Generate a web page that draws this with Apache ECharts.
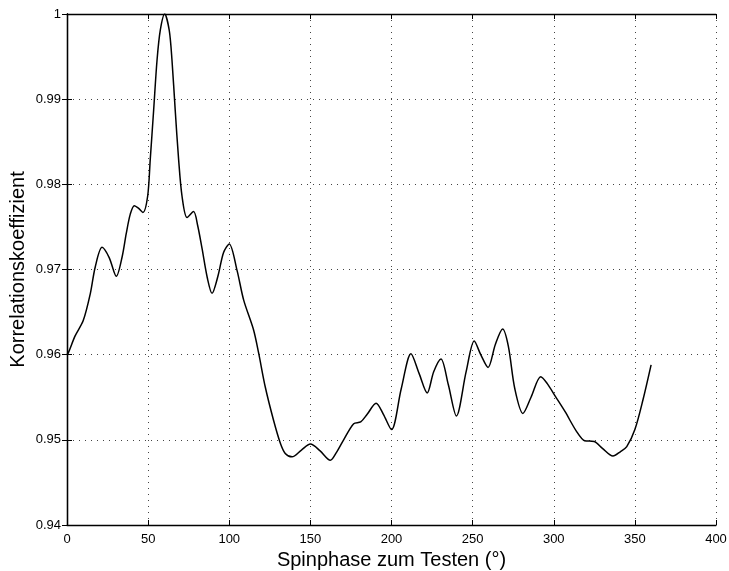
<!DOCTYPE html>
<html>
<head>
<meta charset="utf-8">
<script src="https://cdn.jsdelivr.net/npm/echarts@6/dist/echarts.min.js"></script>
<style>
  html, body { margin: 0; padding: 0; background: #fff; }
  #chart { width: 729px; height: 571px; }
</style>
</head>
<body>
<div id="chart"></div>
<script>
// Spin phase (degrees) and correlation coefficient
const phase = [0, 1, 5, 10, 14.4, 17.4, 21.6, 26, 30.4, 34, 36.5, 39, 41.5, 44, 46.8, 49.7,
  51.3, 53.4, 55.5, 57.5, 60.2, 63, 64.7, 66.7, 68.8, 70.9, 74, 78, 80.5, 83.2, 86.5, 89.4,
  93, 96.5, 100, 104.8, 108.9, 115, 118.1, 122.2, 127.3, 131.5, 134.5, 138.7, 144.5, 150,
  156, 162.3, 166, 170.5, 176.7, 181, 185, 190.5, 195, 200, 206, 212, 217, 222, 226, 230.5,
  235, 240, 246, 251, 255, 259.5, 264, 268.5, 272, 276, 281, 286, 292, 296, 301, 307, 314,
  319, 325, 330, 336.5, 341, 345, 350, 355, 360];
const corr = [0.9600, 0.9603, 0.9622, 0.9640, 0.9672, 0.9703, 0.9726, 0.9714, 0.9692, 0.9715,
  0.9742, 0.9765, 0.9775, 0.9772, 0.9767, 0.9786, 0.9829, 0.9887, 0.9946, 0.9981, 1.0000,
  0.9981, 0.9946, 0.9887, 0.9829, 0.9786, 0.9761, 0.9768, 0.9752, 0.9725, 0.9690, 0.9672,
  0.9692, 0.9720, 0.9730, 0.9699, 0.9664, 0.9629, 0.9602, 0.9562, 0.9523, 0.9496, 0.9484,
  0.9480, 0.9488, 0.9495, 0.9487, 0.9476, 0.9485, 0.9500, 0.9519, 0.9521, 0.9530, 0.9543,
  0.9530, 0.9512, 0.9560, 0.9601, 0.9578, 0.9555, 0.9580, 0.9595, 0.9565, 0.9528, 0.9580,
  0.9616, 0.9600, 0.9585, 0.9612, 0.9630, 0.9610, 0.9560, 0.9531, 0.9550, 0.9574, 0.9566,
  0.9551, 0.9533, 0.9510, 0.9499, 0.9498, 0.9490, 0.9481, 0.9486, 0.9492, 0.9512, 0.9547,
  0.9588];

const xTicks = { min: 0, max: 400, step: 50 };
const yTicks = { min: 0.94, max: 1.0, step: 0.01 };

const font = 'Liberation Sans, Arial, Helvetica, sans-serif';
const gridLine = { show: true, lineStyle: { color: '#444', type: [1, 5], width: 1 } };
const tick = { show: true, inside: true, length: 5, lineStyle: { color: '#000' } };
const axisLine = { show: true, lineStyle: { color: '#000', width: 1.3 } };

const chart = echarts.init(document.getElementById('chart'));
chart.setOption({
  backgroundColor: '#fff',
  animation: false,
  grid: { left: 67, right: 13, top: 14, bottom: 46, containLabel: false, outerBoundsMode: 'none' },
  xAxis: [{
    type: 'value', min: xTicks.min, max: xTicks.max, interval: xTicks.step,
    name: 'Spinphase zum Testen (°)', nameLocation: 'middle', nameGap: 19,
    nameTextStyle: { fontFamily: font, fontSize: 20, color: '#000' },
    axisLine: axisLine, axisTick: tick, splitLine: gridLine,
    axisLabel: { fontFamily: font, fontSize: 13, color: '#000', margin: 8 }
  }, {
    type: 'value', position: 'top', min: xTicks.min, max: xTicks.max, interval: xTicks.step,
    axisLine: axisLine, axisTick: tick, splitLine: { show: false }, axisLabel: { show: false }
  }],
  yAxis: [{
    type: 'value', min: yTicks.min, max: yTicks.max, interval: yTicks.step,
    name: 'Korrelationskoeffizient', nameLocation: 'middle', nameGap: 39,
    nameMoveOverlap: false,
    nameTextStyle: { fontFamily: font, fontSize: 20, color: '#000' },
    axisLine: axisLine, axisTick: tick, splitLine: gridLine,
    axisLabel: {
      fontFamily: font, fontSize: 13, color: '#000', margin: 6,
      formatter: v => String(+v.toFixed(2))
    }
  }, {
    type: 'value', position: 'right', min: yTicks.min, max: yTicks.max, interval: yTicks.step,
    axisLine: axisLine, axisTick: tick, splitLine: { show: false }, axisLabel: { show: false }
  }],
  series: [{
    type: 'line',
    data: phase.map((p, i) => [p, corr[i]]),
    smooth: 0.3,
    showSymbol: false,
    lineStyle: { color: '#000', width: 1.5 }
  }]
});
</script>
</body>
</html>
